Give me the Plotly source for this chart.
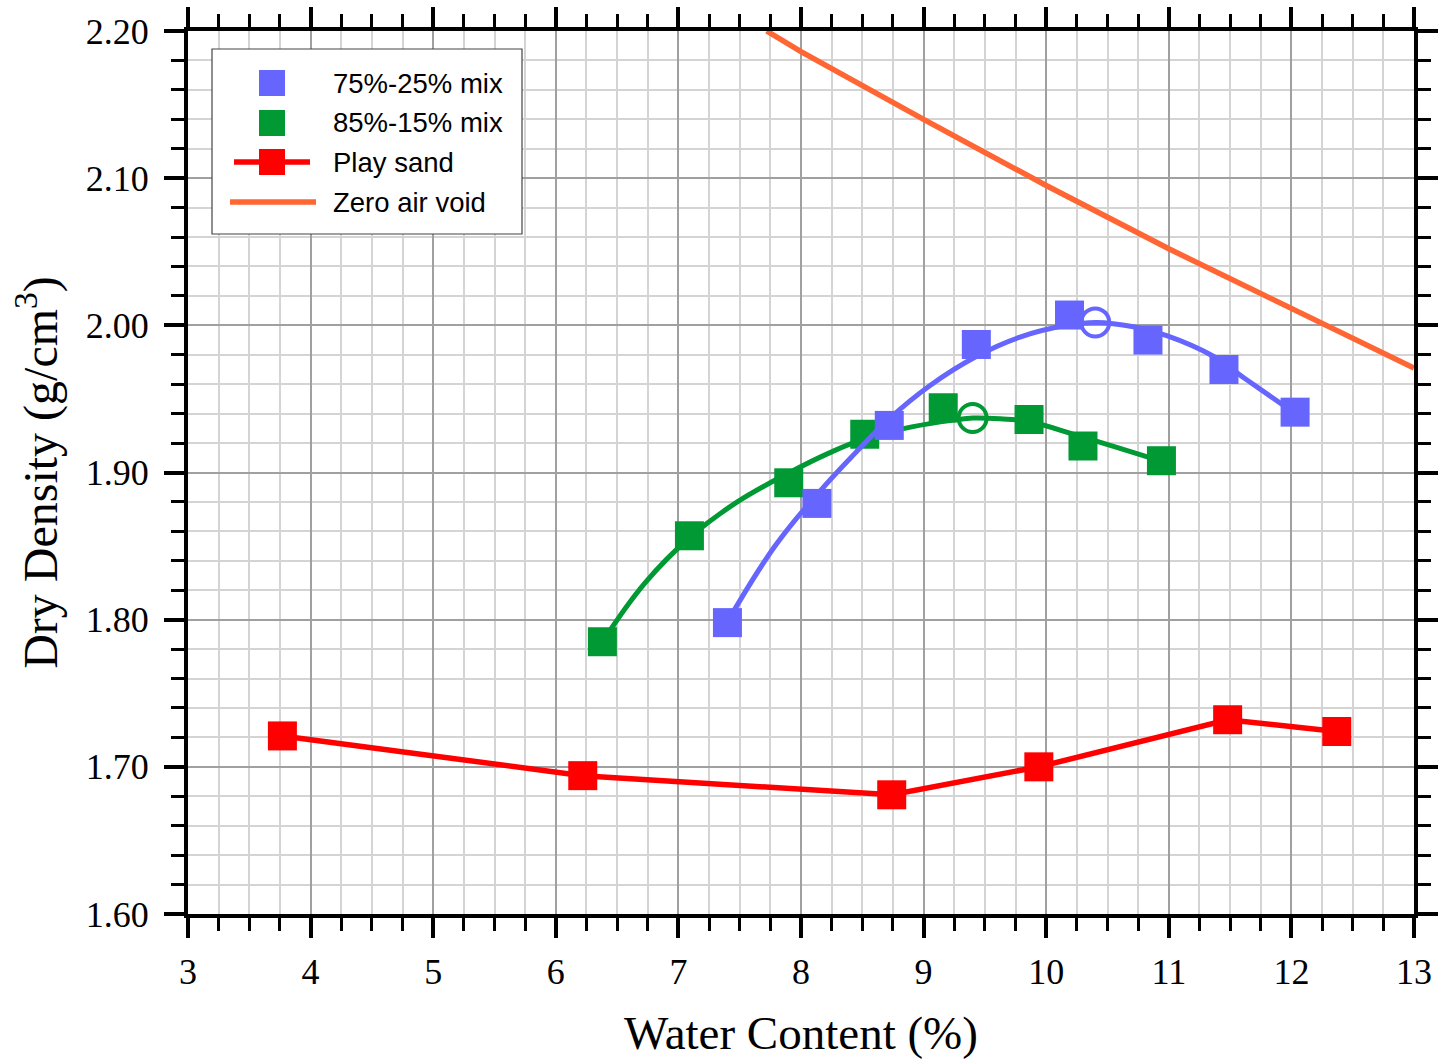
import plotly.graph_objects as go

# ---- data ----
# 75%-25% mix: measured points
mix75_w = [7.40, 8.13, 8.72, 9.43, 10.19, 10.83, 11.45, 12.03]
mix75_d = [1.798, 1.879, 1.932, 1.987, 2.007, 1.990, 1.970, 1.941]
# 75%-25% mix: fitted compaction curve
mix75_fit_w = [7.396, 7.788, 8.141, 8.44, 8.726, 9.05, 9.433, 9.786, 10.167,
               10.412, 10.711, 10.983, 11.363, 11.635, 12.015]
mix75_fit_d = [1.798, 1.850, 1.886, 1.913, 1.937, 1.959, 1.979, 1.992, 2.000,
               2.002, 1.999, 1.993, 1.979, 1.963, 1.941]
mix75_opt_w = [10.40]
mix75_opt_d = [2.002]

# 85%-15% mix: measured points
mix85_w = [6.38, 7.09, 7.90, 8.52, 9.16, 9.86, 10.30, 10.94]
mix85_d = [1.785, 1.857, 1.893, 1.926, 1.944, 1.936, 1.918, 1.908]
# 85%-15% mix: fitted compaction curve
mix85_fit_w = [6.385, 6.728, 7.095, 7.462, 7.896, 8.223, 8.522, 8.903, 9.256,
               9.403, 9.623, 9.862, 10.30, 10.939]
mix85_fit_d = [1.7855, 1.825, 1.856, 1.879, 1.8995, 1.913, 1.923, 1.931, 1.9357,
               1.937, 1.9365, 1.9345, 1.924, 1.9076]
mix85_opt_w = [9.40]
mix85_opt_d = [1.937]

# Play sand
sand_w = [3.77, 6.22, 8.74, 9.94, 11.48, 12.37]
sand_d = [1.721, 1.694, 1.681, 1.700, 1.732, 1.724]

# Zero air void line
zav_w = [7.72, 8.0, 9.0, 10.0, 11.0, 12.0, 13.0]
zav_d = [2.200, 2.186, 2.140, 2.095, 2.052, 2.011, 1.971]

legend_labels = ["75%-25% mix", "85%-15% mix", "Play sand", "Zero air void"]

BLUE = "#6666ff"
GREEN = "#009933"
RED = "#ff0000"
ORANGE = "#ff6633"

SERIF = "Liberation Serif"
SANS = "Liberation Sans"

W, H = 1440, 1063
ML, MR, MT, MB = 188, 26, 31, 149
PW, PH = W - ML - MR, H - MT - MB


def px(xp):
    return (xp - ML) / PW


def py(yp):
    return (H - MB - yp) / PH


fig = go.Figure()

fig.add_trace(go.Scatter(x=zav_w, y=zav_d, mode="lines",
                         line=dict(color=ORANGE, width=5.5), showlegend=False))
fig.add_trace(go.Scatter(x=sand_w, y=sand_d, mode="lines+markers",
                         line=dict(color=RED, width=5.5),
                         marker=dict(symbol="square", size=29, color=RED),
                         showlegend=False))
fig.add_trace(go.Scatter(x=mix85_fit_w, y=mix85_fit_d, mode="lines",
                         line=dict(color=GREEN, width=5, shape="spline", smoothing=1.2),
                         showlegend=False))
fig.add_trace(go.Scatter(x=mix85_w, y=mix85_d, mode="markers",
                         marker=dict(symbol="square", size=29, color=GREEN),
                         showlegend=False))
fig.add_trace(go.Scatter(x=mix85_opt_w, y=mix85_opt_d, mode="markers",
                         marker=dict(symbol="circle-open", size=28, color=GREEN,
                                     line=dict(width=4, color=GREEN)),
                         showlegend=False))
fig.add_trace(go.Scatter(x=mix75_fit_w, y=mix75_fit_d, mode="lines",
                         line=dict(color=BLUE, width=5, shape="spline", smoothing=1.2),
                         showlegend=False))
fig.add_trace(go.Scatter(x=mix75_w, y=mix75_d, mode="markers",
                         marker=dict(symbol="square", size=29, color=BLUE),
                         showlegend=False))
fig.add_trace(go.Scatter(x=mix75_opt_w, y=mix75_opt_d, mode="markers",
                         marker=dict(symbol="circle-open", size=28, color=BLUE,
                                     line=dict(width=4, color=BLUE)),
                         showlegend=False))

axis_common = dict(
    showline=True, linewidth=4, linecolor="black", mirror="allticks",
    ticks="outside", ticklen=20, tickwidth=4, tickcolor="black",
    showgrid=True, gridcolor="#a0a0a0", gridwidth=2,
    zeroline=False,
    tickfont=dict(family=SERIF, size=36, color="black"),
)

fig.update_xaxes(
    **axis_common,
    range=[3, 13], dtick=1, tick0=3,
    ticklabelstandoff=3,
    minor=dict(dtick=0.25, ticks="outside", ticklen=13, tickwidth=3,
               tickcolor="black", showgrid=True, gridcolor="#d4d4d4", gridwidth=1.5),
    title=dict(text="Water Content (%)", font=dict(family=SERIF, size=47, color="black"),
               standoff=26),
)
fig.update_yaxes(
    **axis_common,
    range=[1.6, 2.2], dtick=0.1, tick0=1.6, tickformat=".2f",
    ticklabelstandoff=8,
    minor=dict(dtick=0.02, ticks="outside", ticklen=13, tickwidth=3,
               tickcolor="black", showgrid=True, gridcolor="#d4d4d4", gridwidth=1.5),
    title=dict(text="Dry Density (g/cm<sup>3</sup>)",
               font=dict(family=SERIF, size=48, color="black"), standoff=14),
)

# ---- legend box ----
shapes = [dict(type="rect", xref="paper", yref="paper",
               x0=px(212), x1=px(522), y0=py(234), y1=py(49),
               line=dict(color="#444444", width=1.2), fillcolor="white", layer="above")]
annotations = []
row_y = [83, 123, 162, 202]
sq = 13
for i, (label, col) in enumerate(zip(legend_labels, [BLUE, GREEN, RED, ORANGE])):
    yc = row_y[i]
    if i == 2:
        shapes.append(dict(type="line", xref="paper", yref="paper",
                           x0=px(234), x1=px(310), y0=py(yc), y1=py(yc),
                           line=dict(color=col, width=5.5), layer="above"))
    if i == 3:
        shapes.append(dict(type="line", xref="paper", yref="paper",
                           x0=px(230), x1=px(316), y0=py(yc), y1=py(yc),
                           line=dict(color=col, width=5.5), layer="above"))
    else:
        shapes.append(dict(type="rect", xref="paper", yref="paper",
                           x0=px(272 - sq), x1=px(272 + sq),
                           y0=py(yc + sq), y1=py(yc - sq),
                           line=dict(width=0), fillcolor=col, layer="above"))
    annotations.append(dict(xref="paper", yref="paper", x=px(331), y=py(yc),
                            xanchor="left", yanchor="middle", showarrow=False,
                            text=label, font=dict(family=SANS, size=27.5, color="black")))

fig.update_layout(
    width=W, height=H,
    margin=dict(l=ML, r=MR, t=MT, b=MB, autoexpand=False),
    paper_bgcolor="white", plot_bgcolor="white",
    showlegend=False,
    shapes=shapes, annotations=annotations,
)

fig.write_html("out.html")
